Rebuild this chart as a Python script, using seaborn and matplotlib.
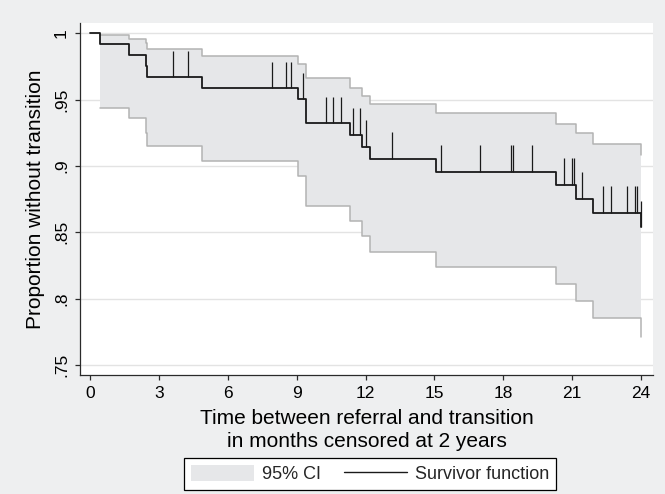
import numpy as np
import pandas as pd
import matplotlib
matplotlib.use("Agg")
import matplotlib.pyplot as plt
from matplotlib.patches import Patch
from matplotlib.lines import Line2D
import seaborn as sns

# ---- data ----
event_times = [0.0, 0.42, 1.70, 2.42, 2.50, 4.89, 9.07, 9.39, 11.32, 11.83,
               12.20, 15.06, 20.28, 21.18, 21.92, 24.0]
survival = [1.0, 0.992, 0.9836, 0.975, 0.967, 0.9586, 0.9503, 0.9322, 0.9236,
            0.9146, 0.9053, 0.8958, 0.8859, 0.8754, 0.8646, 0.8538]
ci_times = [0.42, 1.70, 2.42, 2.50, 4.89, 9.07, 9.39, 11.32, 11.83,
            12.20, 15.06, 20.28, 21.18, 21.92, 24.0]
ci_upper = [0.9988, 0.996, 0.993, 0.988, 0.9827, 0.977, 0.966, 0.959, 0.953,
            0.9465, 0.9397, 0.932, 0.9246, 0.9168, 0.908]
ci_lower = [0.9435, 0.936, 0.9246, 0.915, 0.904, 0.8927, 0.870, 0.8586, 0.8473,
            0.8354, 0.8237, 0.811, 0.7985, 0.7857, 0.7714]
censor_times = [3.60, 4.25, 7.91, 8.52, 8.75, 9.26, 10.30, 10.57, 10.93, 11.47,
                11.76, 12.00, 13.17, 15.30, 16.97, 18.34, 18.41, 19.25, 20.64,
                20.98, 21.08, 21.43, 22.36, 22.69, 23.40, 23.75, 23.81, 24.0]
x_ticks = [0, 3, 6, 9, 12, 15, 18, 21, 24]
y_ticks = [0.75, 0.80, 0.85, 0.90, 0.95, 1.0]
y_tick_labels = [".75", ".8", ".85", ".9", ".95", "1"]
x_title = "Time between referral and transition\nin months censored at 2 years"
y_title = "Proportion without transition"
legend_labels = ["95% CI", "Survivor function"]

surv_df = pd.DataFrame({"t": event_times, "s": survival})
ci_df = pd.DataFrame({"t": ci_times, "lo": ci_lower, "hi": ci_upper})

# ---- style ----
sns.set_theme(style="white")
plt.rcParams["font.family"] = ["Liberation Sans", "DejaVu Sans"]

outer_bg = "#eeeff0"
band_fill = "#e6e7e9"
band_edge = "#b3b3b3"
line_col = "#1a1a1a"
axis_col = "#2a2a2a"

fig = plt.figure(figsize=(6.65, 4.94), dpi=100, facecolor=outer_bg)
ax = fig.add_axes([80 / 665, 1 - 375 / 494, (653 - 80) / 665, (375 - 23.3) / 494])
ax.set_facecolor("white")

# CI band
ax.fill_between(ci_df["t"], ci_df["lo"], ci_df["hi"], step="post",
                color=band_fill, lw=0, zorder=1)
sns.lineplot(data=ci_df, x="t", y="hi", ax=ax, drawstyle="steps-post",
             color=band_edge, lw=1.1, estimator=None, sort=False, zorder=2,
             legend=False)
sns.lineplot(data=ci_df, x="t", y="lo", ax=ax, drawstyle="steps-post",
             color=band_edge, lw=1.1, estimator=None, sort=False, zorder=2,
             legend=False)

# survivor function
sns.lineplot(data=surv_df, x="t", y="s", ax=ax, drawstyle="steps-post",
             color=line_col, lw=1.3, estimator=None, sort=False, zorder=4,
             legend=False)

# censoring ticks
et = np.array(event_times)
sv = np.array(survival)
ct = np.array(censor_times)
base = sv[np.searchsorted(et, ct, side="right") - 1]
ax.vlines(ct, base, base + 0.02, color=line_col, lw=0.9, zorder=4)

# axes
ax.set_xlim(-0.4355, 24.52)
ax.set_ylim(0.7425, 1.0075)
ax.set_xticks(x_ticks)
ax.set_xticklabels([str(v) for v in x_ticks])
ax.set_yticks(y_ticks)
ax.set_yticklabels(y_tick_labels, rotation=90, va="center")
ax.yaxis.grid(True, color="#e3e3e3", lw=1.0, zorder=0)
ax.xaxis.grid(False)
ax.set_axisbelow(True)
for side in ["top", "right"]:
    ax.spines[side].set_visible(False)
for side in ["left", "bottom"]:
    ax.spines[side].set_color(axis_col)
    ax.spines[side].set_linewidth(0.9)
ax.tick_params(axis="both", which="major", direction="out", length=3.6,
               width=0.9, color=axis_col, labelsize=12.5, pad=4.4,
               labelcolor="black", bottom=True, left=True)

ax.set_xlabel(x_title, fontsize=15, linespacing=1.22, va="center", color="black")
ax.xaxis.set_label_coords(0.5, (375 - 430) / 351.7)
ax.set_ylabel(y_title, fontsize=15, va="center", color="black")
ax.yaxis.set_label_coords((35.5 - 80) / 573, 0.5)

handles = [Patch(facecolor=band_fill, edgecolor="none"),
           Line2D([0], [0], color=line_col, lw=1.0)]
leg = fig.legend(handles, legend_labels, loc="center",
                 bbox_to_anchor=(370 / 665, 1 - 474 / 494), ncol=2, fontsize=13,
                 frameon=True, fancybox=False, shadow=False, framealpha=1,
                 facecolor="white", edgecolor="black", handlelength=3.5,
                 handleheight=1.0, handletextpad=0.4, columnspacing=1.3,
                 borderpad=0.4)
leg.get_frame().set_linewidth(0.9)

fig.savefig("out.png", dpi=100, facecolor=outer_bg)
